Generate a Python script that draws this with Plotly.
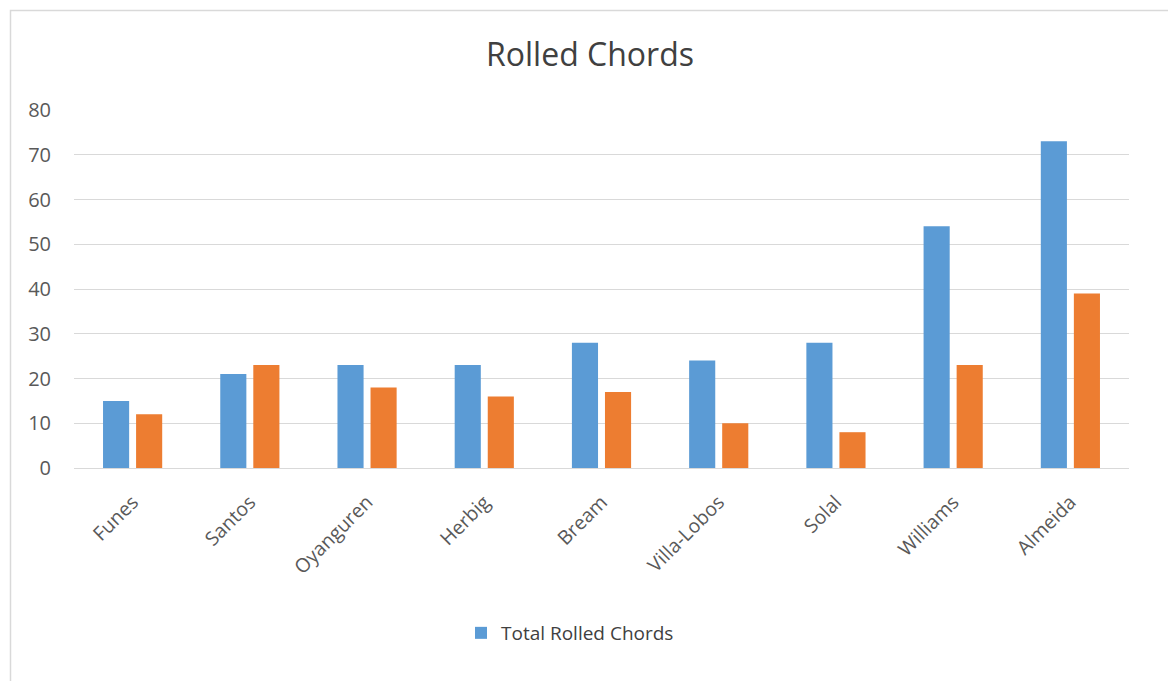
import plotly.graph_objects as go

categories = ["Funes", "Santos", "Oyanguren", "Herbig", "Bream", "Villa-Lobos", "Solal", "Williams", "Almeida"]
total_rolled = [15, 21, 23, 23, 28, 24, 28, 54, 73]
second_series = [12, 23, 18, 16, 17, 10, 8, 23, 39]
y_ticks = [0, 10, 20, 30, 40, 50, 60, 70, 80]

W, H = 1168, 681
L, R, T, B = 74, 39, 110, 213
pw, ph = W - L - R, H - T - B

def px_x(p):
    return (p - L) / pw

def px_y(p):
    return (H - B - p) / ph

font = "Open Sans, Calibri, sans-serif"

fig = go.Figure()
fig.add_trace(go.Bar(x=categories, y=total_rolled, name="Total Rolled Chords",
                     marker=dict(color="#5B9BD5", line=dict(width=0))))
fig.add_trace(go.Bar(x=categories, y=second_series, name="", showlegend=False,
                     marker=dict(color="#ED7D31", line=dict(width=0))))

fig.update_layout(
    width=W, height=H,
    margin=dict(l=L, r=R, t=T, b=B),
    paper_bgcolor="white", plot_bgcolor="white",
    barmode="group", bargap=0.436, bargroupgap=0.21,
    title=dict(text="Rolled Chords", x=px_x(590), xref="paper", xanchor="center",
               y=1 - 55 / H, yref="container", yanchor="middle",
               font=dict(family=font, size=32, color="#404040")),
    font=dict(family=font, size=19, color="#595959"),
    legend=dict(orientation="h", x=px_x(570), xanchor="center", xref="paper",
                y=px_y(633), yanchor="middle", font=dict(size=19, color="#404040"),
                itemwidth=30),
    showlegend=True,
    shapes=[dict(type="rect", xref="paper", yref="paper",
                 x0=px_x(10.5), x1=px_x(1200), y0=px_y(720), y1=px_y(10.5),
                 line=dict(color="#D9D9D9", width=1.5), fillcolor="rgba(0,0,0,0)", layer="below")],
)
fig.update_xaxes(tickangle=-45, showgrid=False, showline=False, ticks="",
                 ticklabelstandoff=18,
                 tickfont=dict(size=19.5, color="#595959"))
fig.update_yaxes(range=[0, 80], tickvals=y_ticks, showgrid=True, gridcolor="#D9D9D9",
                 gridwidth=1.3, zeroline=True, zerolinecolor="#D9D9D9", zerolinewidth=1.3,
                 showline=False, ticks="", ticklabelstandoff=22,
                 tickfont=dict(size=20, color="#595959"))

fig.write_html("out.html")
